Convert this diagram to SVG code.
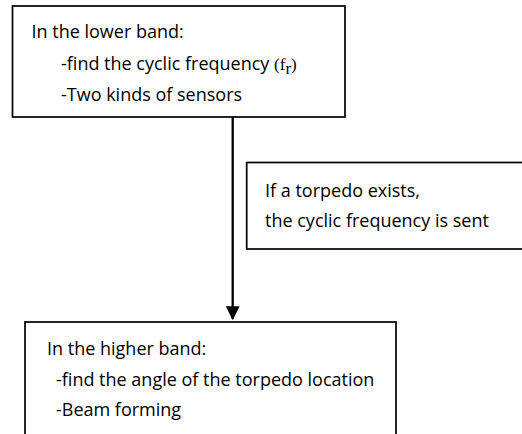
<svg xmlns="http://www.w3.org/2000/svg" width="522" height="434" viewBox="0 0 522 434">
<style>
.box{fill:#fff;stroke:#000;stroke-width:1.7}
.t{font-family:"Open Sans","Noto Sans",sans-serif;font-size:18px;fill:#000}
.s{font-family:"Liberation Serif",serif;font-size:17px}
.conn{stroke:#000;stroke-width:2.3;fill:none}
</style>
<defs>
<marker id="ah" markerWidth="6" markerHeight="6" refX="5.5" refY="3" orient="auto" markerUnits="strokeWidth">
<path d="M0,0 L6,3 L0,6 Z" fill="#000"/>
</marker>
</defs>
<rect width="522" height="434" fill="#fff"/>
<g id="connectors">
<line class="conn" x1="232.7" y1="117" x2="232.7" y2="319" marker-end="url(#ah)"/>
</g>
<g id="lower">
<rect class="box" x="12.5" y="6" width="332.5" height="111"/>
<text class="t" x="31.5" y="38">In the lower band:</text>
<text class="t" x="61" y="70">-find the cyclic frequency <tspan class="s">(f</tspan><tspan class="s" font-size="12" dy="4">r</tspan><tspan class="s" dy="-4">)</tspan></text>
<text class="t" x="61" y="100.5">-Two kinds of sensors</text>
</g>
<g id="torpedo">
<rect class="box" x="246.7" y="162.5" width="280" height="86.5"/>
<text class="t" x="265" y="196.5">If a torpedo exists,</text>
<text class="t" x="265" y="226.5">the cyclic frequency is sent</text>
</g>
<g id="higher">
<rect class="box" x="25" y="322" width="371" height="116"/>
<text class="t" x="47" y="355">In the higher band:</text>
<text class="t" x="56" y="385.5">-find the angle of the torpedo location</text>
<text class="t" x="56" y="416">-Beam forming</text>
</g>
</svg>
